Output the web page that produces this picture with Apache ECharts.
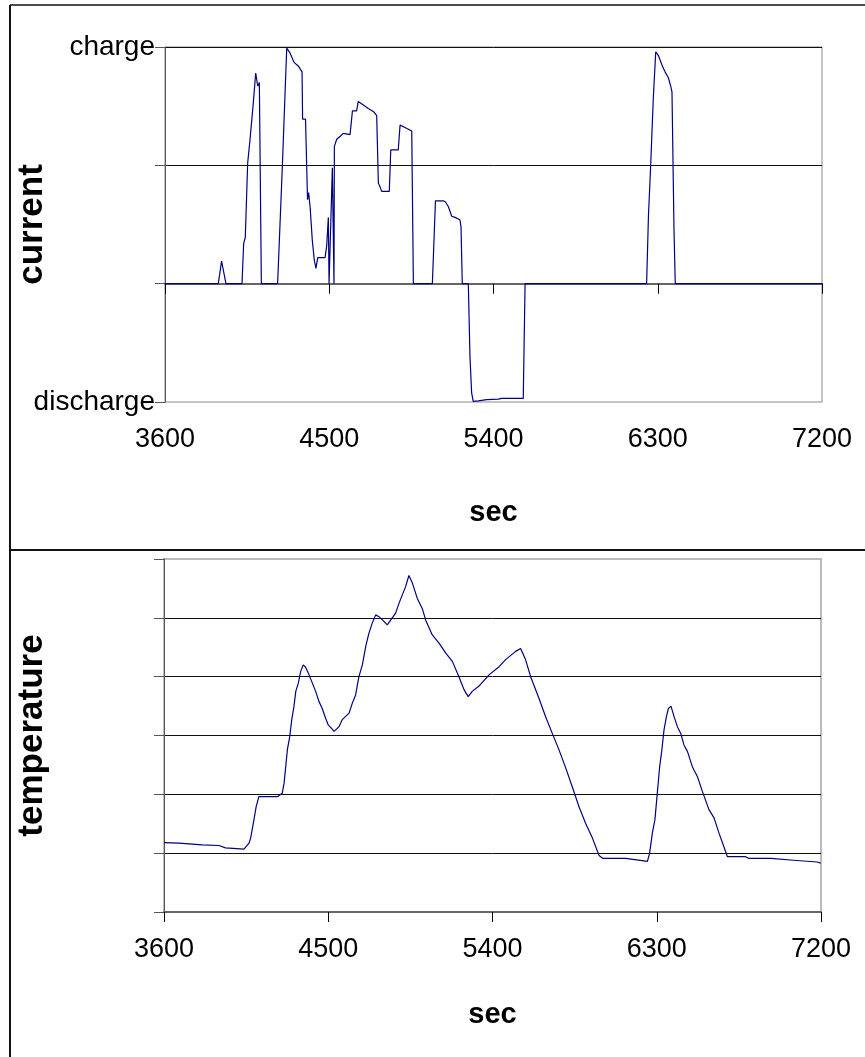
<!DOCTYPE html>
<html>
<head>
<meta charset="utf-8">
<script src="https://cdn.jsdelivr.net/npm/echarts@6/dist/echarts.min.js"></script>
<style>
  html, body { margin: 0; padding: 0; background: #fff; }
  #chart { width: 865px; height: 1057px; }
</style>
</head>
<body>
<div id="chart"></div>
<script>
// x ticks (sec)
const xTicks = [3600, 4500, 5400, 6300, 7200];
// current axis: -1 = discharge, 2 = charge
const currentLabels = { "-1": "discharge", "2": "charge" };

// current trace
const curSec = [3600, 3892, 3910, 3934, 4022, 4031, 4040, 4053, 4066, 4084, 4097, 4108, 4117, 4124, 4128,
  4217, 4243, 4252, 4267, 4285, 4307, 4330, 4351, 4354, 4370, 4381, 4387, 4395, 4407, 4418, 4427, 4437,
  4477, 4486, 4495, 4499, 4517, 4526, 4528, 4541, 4563, 4577, 4614, 4627, 4650, 4659, 4687, 4714, 4745,
  4760, 4769, 4778, 4787, 4829, 4837, 4878, 4888, 4915, 4952, 4961, 5065, 5082, 5125, 5137, 5153, 5171,
  5189, 5216, 5222, 5229, 5262, 5271, 5280, 5289, 5317, 5363, 5427, 5445, 5472, 5563, 5573, 6239, 6249,
  6261, 6276, 6289, 6295, 6303, 6325, 6340, 6358, 6371, 6378, 6389, 6396, 7200];
const curVal = [0, 0, 0.19, 0, 0, 0.34, 0.39, 1.02, 1.22, 1.53, 1.78, 1.67, 1.70, 1.69, 0,
  0, 0.99, 1.0, 1.99, 1.95, 1.87, 1.84, 1.79, 1.39, 1.39, 0.71, 0.77, 0.65, 0.37, 0.20, 0.13, 0.22,
  0.22, 0.32, 0.56, 0, 0.98, 0, 1.16, 1.22, 1.25, 1.27, 1.26, 1.46, 1.46, 1.54, 1.51, 1.48, 1.45,
  1.42, 0.85, 0.82, 0.78, 0.78, 1.13, 1.13, 1.34, 1.32, 1.29, 0, 0, 0.70, 0.70, 0.69, 0.65, 0.57,
  0.56, 0.54, 0.48, 0, 0, -0.61, -0.92, -0.995, -0.99, -0.98, -0.975, -0.97, -0.97, -0.97, 0, 0, 0.57,
  0.99, 1.58, 1.96, 1.96, 1.93, 1.84, 1.79, 1.74, 1.67, 1.62, 0.46, 0, 0];

// temperature trace (unlabelled axis, 0..6 gridline units)
const tempSec = [3600, 3682, 3690, 3810, 3820, 3901, 3937, 4038, 4048, 4066, 4075, 4093, 4105, 4120, 4221,
  4230, 4248, 4258, 4267, 4276, 4289, 4300, 4312, 4322, 4336, 4349, 4363, 4376, 4391, 4413, 4431, 4449,
  4467, 4486, 4500, 4518, 4532, 4559, 4577, 4614, 4632, 4650, 4668, 4687, 4705, 4723, 4741, 4760, 4778,
  4805, 4823, 4842, 4869, 4888, 4906, 4924, 4942, 4961, 4988, 5015, 5034, 5070, 5107, 5144, 5180, 5216,
  5244, 5267, 5289, 5326, 5381, 5436, 5472, 5527, 5554, 5581, 5609, 5655, 5691, 5727, 5764, 5801, 5837,
  5874, 5910, 5947, 5984, 6005, 6130, 6139, 6249, 6261, 6276, 6290, 6303, 6316, 6327, 6340, 6353, 6364,
  6378, 6395, 6413, 6431, 6449, 6468, 6495, 6523, 6550, 6586, 6614, 6641, 6668, 6687, 6787, 6805, 6925,
  6933, 7050, 7060, 7179, 7198];
const tempVal = [1.18, 1.17, 1.16, 1.14, 1.13, 1.13, 1.09, 1.07, 1.10, 1.17, 1.26, 1.57, 1.79, 1.96, 1.96,
  1.94, 2.02, 2.19, 2.47, 2.76, 2.98, 3.27, 3.49, 3.75, 3.89, 4.09, 4.20, 4.16, 4.06, 3.89, 3.75, 3.58,
  3.46, 3.29, 3.18, 3.12, 3.07, 3.15, 3.27, 3.38, 3.55, 3.69, 4.00, 4.20, 4.51, 4.74, 4.91, 5.05, 5.02,
  4.94, 4.88, 4.96, 5.08, 5.25, 5.39, 5.53, 5.72, 5.59, 5.33, 5.16, 4.96, 4.71, 4.57, 4.40, 4.26, 4.00,
  3.78, 3.66, 3.75, 3.84, 4.03, 4.17, 4.29, 4.43, 4.48, 4.29, 4.00, 3.63, 3.32, 3.04, 2.76, 2.45, 2.13,
  1.79, 1.51, 1.26, 0.96, 0.91, 0.91, 0.88, 0.86, 1.00, 1.34, 1.57, 2.02, 2.47, 2.73, 3.10, 3.32, 3.46,
  3.50, 3.32, 3.15, 3.04, 2.84, 2.73, 2.47, 2.30, 2.05, 1.74, 1.60, 1.34, 1.11, 0.94, 0.94, 0.91, 0.91,
  0.88, 0.88, 0.85, 0.85, 0.83];

const font = "Liberation Sans, Arial, sans-serif";
const chart = echarts.init(document.getElementById("chart"));

function xAxisFor(gridIndex, gap) {
  return {
    type: "value", gridIndex,
    min: xTicks[0], max: xTicks[xTicks.length - 1], interval: 900,
    name: "sec", nameLocation: "middle", nameGap: gap,
    nameTextStyle: { fontFamily: font, fontSize: 29, fontWeight: "bold", color: "#000" },
    axisLine: { show: true, lineStyle: { color: "#666", width: 2 } },
    axisTick: { show: true, length: 10, lineStyle: { color: "#000" } },
    axisLabel: { margin: 24, fontFamily: font, fontSize: 27, color: "#000", formatter: v => String(v) },
    splitLine: { show: false }
  };
}

function yName(text, gap) {
  return {
    name: text, nameLocation: "middle", nameGap: gap, nameMoveOverlap: false,
    nameTextStyle: { fontFamily: font, fontSize: 35, fontWeight: "bold", color: "#000" }
  };
}

const option = {
  animation: false,
  backgroundColor: "#fff",
  grid: [
    { left: 165, top: 47, width: 657, height: 355, show: true, borderColor: "#888", borderWidth: 1, outerBoundsMode: "none", containLabel: false },
    { left: 164, top: 559, width: 657, height: 353, show: true, borderColor: "#bbb", borderWidth: 2, outerBoundsMode: "none", containLabel: false }
  ],
  xAxis: [xAxisFor(0, 96), xAxisFor(1, 88)],
  yAxis: [
    Object.assign({
      type: "value", gridIndex: 0, min: -1, max: 2, interval: 1,
      axisLine: { show: true, lineStyle: { color: "#555" } },
      axisTick: { show: true, length: 10, lineStyle: { color: "#555" } },
      axisLabel: {
        margin: 10, fontFamily: font, fontSize: 28, color: "#000",
        formatter: v => currentLabels[String(v)] || ""
      },
      splitLine: { show: true, showMinLine: false, lineStyle: { color: "#111", width: 1 } }
    }, yName("current", 115)),
    Object.assign({
      type: "value", gridIndex: 1, min: 0, max: 6, interval: 1,
      axisLine: { show: true, lineStyle: { color: "#555" } },
      axisTick: { show: true, length: 10, lineStyle: { color: "#555" } },
      axisLabel: { show: false },
      splitLine: { show: true, showMinLine: false, showMaxLine: false, lineStyle: { color: "#111", width: 1 } }
    }, yName("temperature", 114))
  ],
  series: [
    {
      type: "line", xAxisIndex: 0, yAxisIndex: 0, showSymbol: false,
      lineStyle: { color: "#000080", width: 1.2 },
      data: curSec.map((s, i) => [s, curVal[i]])
    },
    {
      type: "line", xAxisIndex: 1, yAxisIndex: 1, showSymbol: false,
      lineStyle: { color: "#000080", width: 1.2 },
      data: tempSec.map((s, i) => [s, tempVal[i]])
    }
  ],
  graphic: [
    { type: "line", shape: { x1: 10, y1: 5, x2: 10, y2: 1057 }, style: { stroke: "#111", lineWidth: 2 } },
    { type: "line", shape: { x1: 10, y1: 5, x2: 865, y2: 5 }, style: { stroke: "#111", lineWidth: 1.5 } },
    { type: "line", shape: { x1: 10, y1: 550, x2: 865, y2: 550 }, style: { stroke: "#111", lineWidth: 2 } }
  ]
};
chart.setOption(option);
</script>
</body>
</html>
